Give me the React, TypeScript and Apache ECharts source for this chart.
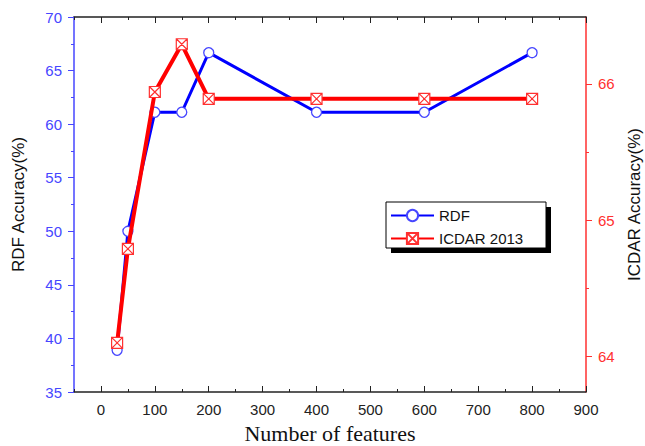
import React, { useEffect, useRef } from "react";
import * as echarts from "echarts";

const features = [30, 50, 100, 150, 200, 400, 600, 800];
const rdfAccuracy = [38.89, 50.0, 61.11, 61.11, 66.67, 61.11, 61.11, 66.67];
const icdarAccuracy = [64.1, 64.79, 65.94, 66.29, 65.89, 65.89, 65.89, 65.89];
const xMajorTicks = [0, 100, 200, 300, 400, 500, 600, 700, 800, 900];
const rightMajorTicks = [64, 65, 66];
const rightMinorTicks = [64.5, 65.5];

const BLUE = "#4646ff";
const RED = "#ff3030";
const crossSquare = "path://M0,0L10,0L10,10L0,10Z M0,0L10,10 M10,0L0,10";

export default function App() {
  const ref = useRef<HTMLDivElement>(null);
  useEffect(() => {
    if (!ref.current) return;
    const chart = echarts.init(ref.current, null, { renderer: "svg" });
    const xBase = { type: "value", min: -50, max: 900, splitLine: { show: false } };
    chart.setOption({
      animation: false,
      backgroundColor: "#fff",
      grid: { left: 74, right: 59, top: 17, bottom: 54, containLabel: false, outerBoundsMode: "none" },
      legend: {
        orient: "vertical",
        left: 390,
        top: 208,
        padding: 0,
        itemWidth: 43,
        itemHeight: 14,
        itemGap: 8,
        textStyle: { fontFamily: "Arial, Liberation Sans", fontSize: 15, color: "#111" },
        data: ["RDF", "ICDAR 2013"],
      },
      graphic: [
        { type: "rect", z: 1, shape: { x: 391, y: 207, width: 160, height: 46 }, style: { fill: "#000" } },
        { type: "rect", z: 2, shape: { x: 386, y: 202, width: 160, height: 46 }, style: { fill: "#fff", stroke: "#000", lineWidth: 1 } },
      ],
      xAxis: [
        {
          ...xBase,
          position: "bottom",
          axisLine: { show: true, onZero: false, lineStyle: { color: "#222", width: 1.5 } },
          axisTick: { show: true, inside: true, length: 6, customValues: xMajorTicks, lineStyle: { color: "#222" } },
          axisLabel: { customValues: xMajorTicks, color: "#222", fontSize: 15, fontFamily: "Arial, Liberation Sans", margin: 10 },
          name: "Number of features",
          nameLocation: "middle",
          nameGap: 30,
          nameTextStyle: { fontFamily: "Liberation Serif, Times New Roman", fontSize: 22, color: "#111" },
        },
        {
          ...xBase,
          position: "bottom",
          interval: 50,
          axisLine: { show: false, onZero: false },
          axisTick: { show: true, inside: true, length: 3, lineStyle: { color: "#222" } },
          axisLabel: { show: false },
        },
        {
          ...xBase,
          position: "top",
          axisLine: { show: true, onZero: false, lineStyle: { color: "#222", width: 1.5 } },
          axisTick: { show: true, inside: true, length: 6, customValues: xMajorTicks, lineStyle: { color: "#222" } },
          axisLabel: { show: false },
        },
        {
          ...xBase,
          position: "top",
          interval: 50,
          axisLine: { show: false, onZero: false },
          axisTick: { show: true, inside: true, length: 3, lineStyle: { color: "#222" } },
          axisLabel: { show: false },
        },
      ],
      yAxis: [
        {
          type: "value",
          position: "left",
          min: 35,
          max: 70,
          interval: 5,
          splitLine: { show: false },
          axisLine: { show: true, onZero: false, lineStyle: { color: BLUE, width: 1.5 } },
          axisTick: { show: true, inside: false, length: 6, lineStyle: { color: BLUE } },
          minorTick: { show: true, splitNumber: 2, length: 3, lineStyle: { color: BLUE } },
          axisLabel: { color: BLUE, fontSize: 15, fontFamily: "Arial, Liberation Sans", margin: 12 },
          name: "RDF Accuracy(%)",
          nameLocation: "middle",
          nameRotate: 90,
          nameGap: 47,
          nameTextStyle: { fontFamily: "Arial, Liberation Sans", fontSize: 17, color: "#111" },
        },
        {
          type: "value",
          position: "right",
          min: 63.74,
          max: 66.49,
          splitLine: { show: false },
          axisLine: { show: true, onZero: false, lineStyle: { color: RED, width: 1.5 } },
          axisTick: { show: true, inside: false, length: 6, customValues: rightMajorTicks, lineStyle: { color: RED } },
          axisLabel: { customValues: rightMajorTicks, color: RED, fontSize: 15, fontFamily: "Arial, Liberation Sans", margin: 12 },
          name: "ICDAR Accuracy(%)",
          nameLocation: "middle",
          nameRotate: 90,
          nameGap: 34,
          nameTextStyle: { fontFamily: "Arial, Liberation Sans", fontSize: 17, color: "#111" },
        },
        {
          type: "value",
          position: "right",
          min: 63.74,
          max: 66.49,
          splitLine: { show: false },
          axisLine: { show: false, onZero: false },
          axisTick: { show: true, inside: false, length: 3, customValues: rightMinorTicks, lineStyle: { color: RED } },
          axisLabel: { show: false },
        },
      ],
      series: [
        {
          name: "RDF",
          type: "line",
          xAxisIndex: 0,
          yAxisIndex: 0,
          data: features.map((f, i) => [f, rdfAccuracy[i]]),
          symbol: "circle",
          symbolSize: 10,
          lineStyle: { color: "#0000ff", width: 3 },
          itemStyle: { color: "#fff", borderColor: BLUE, borderWidth: 1.3 },
          z: 3,
        },
        {
          name: "ICDAR 2013",
          type: "line",
          xAxisIndex: 0,
          yAxisIndex: 1,
          data: features.map((f, i) => [f, icdarAccuracy[i]]),
          symbol: crossSquare,
          symbolSize: 11,
          lineStyle: { color: "#ff0000", width: 4 },
          itemStyle: { color: "#fff", borderColor: RED, borderWidth: 1.2 },
          z: 4,
        },
      ],
    });
    return () => chart.dispose();
  }, []);
  return <div ref={ref} style={{ width: 645, height: 446, position: "absolute", left: 0, top: 0 }} />;
}
